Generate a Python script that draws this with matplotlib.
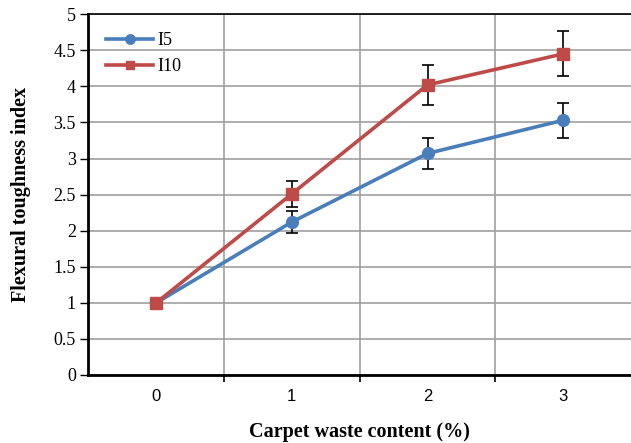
import numpy as np
import matplotlib
matplotlib.use("Agg")
import matplotlib.pyplot as plt
from matplotlib.ticker import FixedLocator

categories = ["0", "1", "2", "3"]
i5_values = [1.0, 2.12, 3.07, 3.53]
i5_errors = [0.0, 0.15, 0.22, 0.24]
i10_values = [1.0, 2.51, 4.02, 4.45]
i10_errors = [0.0, 0.18, 0.28, 0.31]
y_ticks = [0, 0.5, 1, 1.5, 2, 2.5, 3, 3.5, 4, 4.5, 5]

plt.rcParams['font.family'] = ['Liberation Serif', 'DejaVu Serif']

def main():
	fig = plt.figure(figsize=(6.31, 4.43), dpi=100)
	ax = fig.add_axes([0.140, 0.1535, 0.860, 0.8145])

	x = np.arange(len(categories))

	#Error bars first, markers on top
	ax.errorbar(x[1:], i5_values[1:], yerr=i5_errors[1:], fmt='none', ecolor='black', elinewidth=1.2, capsize=4, capthick=1.2, zorder=3)
	ax.errorbar(x[1:], i10_values[1:], yerr=i10_errors[1:], fmt='none', ecolor='black', elinewidth=1.2, capsize=4, capthick=1.2, zorder=3)

	ax.plot(x, i5_values, color='#4a7ebb', linewidth=2.6, marker='o', markersize=8.5, label="I5", zorder=4)
	ax.plot(x, i10_values, color='#be4b48', linewidth=2.6, marker='s', markersize=8, label="I10", zorder=5)

	ax.set_xlim(-0.5, 3.5)
	ax.set_ylim(0, 5)
	ax.set_yticks(y_ticks)
	ax.set_yticklabels([("%g" % v) for v in y_ticks])
	ax.set_xticks(x)
	ax.set_xticklabels(categories, family=['Liberation Sans'], fontsize=12)
	ax.xaxis.set_minor_locator(FixedLocator([0.5, 1.5, 2.5]))

	ax.grid(True, axis='y', which='major', color='#a0a0a0', linewidth=1.2)
	ax.grid(True, axis='x', which='minor', color='#a0a0a0', linewidth=1.2)
	ax.set_axisbelow(True)

	ax.tick_params(axis='x', which='major', length=0, pad=10)
	ax.tick_params(axis='x', which='minor', length=5, width=1.2, direction='out')
	ax.tick_params(axis='y', length=6, width=1, direction='out', labelsize=13, pad=3)

	for side in ['left', 'bottom']:
		ax.spines[side].set_linewidth(2)
		ax.spines[side].set_color('black')
	ax.spines['top'].set_linewidth(1.2)
	ax.spines['top'].set_color('black')
	ax.spines['right'].set_visible(False)

	ax.set_ylabel("Flexural toughness index", fontsize=14.5, fontweight='bold', labelpad=16)
	ax.set_xlabel("Carpet waste content (%)", fontsize=14.5, fontweight='bold', labelpad=13)

	ax.legend(loc='upper left', bbox_to_anchor=(0.0, 1.0), frameon=False, fontsize=13, markerscale=0.8, handlelength=2.6, handletextpad=0.2, labelspacing=0.5, borderaxespad=0.6)

	fig.savefig("out.png", dpi=100)


if __name__=="__main__":
   main()
